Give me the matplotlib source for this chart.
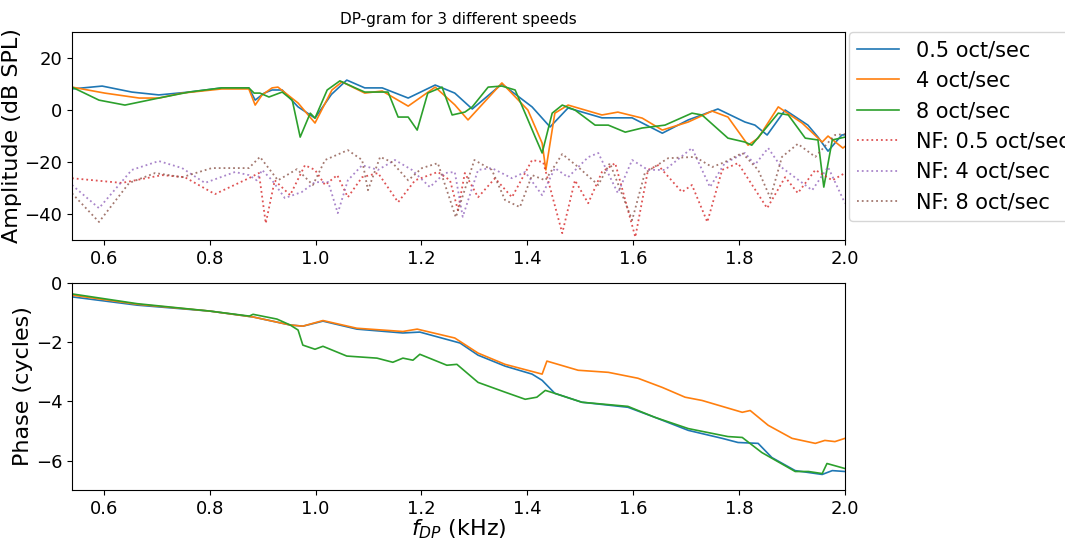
import matplotlib
matplotlib.use('Agg')
import matplotlib.pyplot as plt

# amplitude, DP level (dB SPL)
f_amp_05 = [0.54, 0.597, 0.653, 0.704, 0.761, 0.823, 0.874, 0.886, 0.903, 0.918, 0.937, 0.967, 0.999, 1.03,
            1.059, 1.093, 1.126, 1.175, 1.226, 1.263, 1.296, 1.352, 1.409, 1.443, 1.477, 1.541, 1.598, 1.655,
            1.704, 1.760, 1.811, 1.83, 1.853, 1.887, 1.930, 1.949, 1.968, 1.994, 2.0]
amp_05 = [8.1, 9.2, 6.9, 5.8, 6.9, 8.5, 8.5, 3.8, 6.5, 7.7, 7.7, 1.2, -3.1, 6.0,
          11.5, 8.5, 8.5, 4.6, 9.6, 6.5, 0.4, 10.0, 1.2, -6.5, 0.8, -3.0, -3.0, -8.9,
          -3.8, 0.4, -4.6, -5.8, -9.6, 0.0, -5.8, -10.4, -15.8, -9.6, -9.5]

f_amp_4 = [0.54, 0.602, 0.667, 0.704, 0.748, 0.823, 0.874, 0.886, 0.899, 0.918, 0.929, 0.967, 0.999, 1.031,
           1.05, 1.093, 1.126, 1.175, 1.226, 1.263, 1.288, 1.352, 1.401, 1.428, 1.435, 1.452, 1.477, 1.541,
           1.571, 1.617, 1.655, 1.704, 1.749, 1.779, 1.817, 1.836, 1.874, 1.919, 1.957, 1.968, 1.996, 2.0]
amp_4 = [8.8, 6.5, 4.6, 4.6, 6.5, 8.1, 8.1, 1.9, 5.8, 8.5, 8.8, 2.7, -5.0, 7.7,
         10.8, 6.5, 7.3, 1.5, 8.8, 2.0, -3.8, 10.4, 0.0, -12.7, -23.0, -1.2, 1.9, -1.9,
         -0.8, -3.1, -7.7, -4.6, -0.4, -2.7, -13.5, -10.8, 1.2, -5.0, -12.3, -10.0, -14.6, -14.0]

f_amp_8 = [0.54, 0.591, 0.640, 0.704, 0.761, 0.823, 0.874, 0.884, 0.895, 0.912, 0.937, 0.956, 0.971, 0.99,
           0.999, 1.022, 1.046, 1.075, 1.093, 1.137, 1.156, 1.175, 1.192, 1.212, 1.239, 1.258, 1.282, 1.296,
           1.326, 1.352, 1.377, 1.399, 1.415, 1.428, 1.447, 1.466, 1.49, 1.528, 1.553, 1.585, 1.617, 1.66,
           1.711, 1.73, 1.779, 1.811, 1.824, 1.874, 1.893, 1.925, 1.949, 1.96, 1.976, 2.0]
amp_8 = [8.8, 3.8, 1.9, 4.6, 6.9, 8.5, 8.5, 6.5, 6.5, 5.0, 6.9, 3.8, -10.4, -1.2,
         -3.1, 7.7, 11.2, 8.5, 6.9, 6.9, -2.7, -2.7, -7.7, 6.5, 8.8, -1.9, -0.8, 1.2,
         8.8, 9.2, 7.7, -2.7, -10.4, -16.5, -1.2, 1.9, 0.0, -5.8, -5.8, -8.5, -6.9, -5.8,
         -1.2, -1.9, -10.8, -12.3, -13.5, -1.2, -1.9, -10.8, -11.5, -29.6, -11.5, -10.4]

# noise floor
f_nf_05 = [0.54, 0.634, 0.71, 0.753, 0.81, 0.874, 0.893, 0.906, 0.923, 0.952, 0.98, 0.999, 1.018, 1.041,
           1.061, 1.088, 1.118, 1.156, 1.188, 1.231, 1.254, 1.269, 1.282, 1.307, 1.339, 1.371, 1.409, 1.43,
           1.466, 1.49, 1.515, 1.541, 1.566, 1.604, 1.628, 1.647, 1.692, 1.711, 1.74, 1.768, 1.798, 1.853,
           1.887, 1.911, 1.944, 1.976, 2.0]
nf_05 = [-26.2, -28.0, -25.0, -25.8, -32.3, -26.2, -24.2, -43.5, -27.0, -32.7, -21.2, -23.0, -28.8, -25.0,
         -33.5, -25.8, -24.2, -35.4, -27.0, -23.8, -27.0, -38.5, -24.2, -33.5, -26.2, -33.5, -19.2, -20.0,
         -47.3, -27.0, -35.8, -23.8, -20.4, -48.8, -23.0, -21.2, -31.5, -28.8, -43.0, -23.0, -20.4, -37.7,
         -25.8, -31.9, -23.0, -27.0, -24.2]

f_nf_4 = [0.54, 0.591, 0.653, 0.704, 0.748, 0.791, 0.848, 0.874, 0.889, 0.899, 0.918, 0.942, 0.974, 0.999,
          1.024, 1.042, 1.061, 1.088, 1.118, 1.15, 1.182, 1.216, 1.244, 1.263, 1.278, 1.307, 1.333, 1.371,
          1.396, 1.428, 1.452, 1.477, 1.515, 1.534, 1.571, 1.598, 1.628, 1.66, 1.711, 1.745, 1.773, 1.811,
          1.83, 1.855, 1.88, 1.938, 1.968, 2.0]
nf_4 = [-28.8, -37.7, -23.0, -19.6, -22.3, -28.0, -23.8, -25.0, -27.0, -23.0, -27.0, -33.8, -31.5, -27.7,
        -27.7, -39.6, -27.0, -21.2, -23.0, -19.2, -23.0, -29.6, -24.2, -23.8, -41.0, -23.0, -22.3, -26.2,
        -23.8, -32.7, -22.3, -25.8, -18.1, -16.5, -31.9, -19.2, -23.0, -23.0, -14.6, -29.6, -20.4, -16.5,
        -21.0, -14.6, -22.0, -30.8, -21.9, -35.8]

f_nf_8 = [0.54, 0.591, 0.648, 0.697, 0.748, 0.804, 0.874, 0.895, 0.929, 0.965, 0.995, 1.018, 1.061, 1.088,
          1.099, 1.122, 1.144, 1.175, 1.201, 1.231, 1.265, 1.3, 1.333, 1.358, 1.386, 1.409, 1.434, 1.466,
          1.496, 1.534, 1.556, 1.598, 1.622, 1.666, 1.717, 1.749, 1.773, 1.806, 1.836, 1.859, 1.881, 1.911,
          1.944, 1.981, 2.0]
nf_8 = [-32.0, -43.0, -28.0, -24.2, -25.8, -22.3, -22.3, -18.0, -27.0, -22.7, -28.8, -19.2, -15.4, -19.2,
        -30.8, -18.0, -20.0, -27.0, -22.3, -20.4, -41.2, -19.2, -23.0, -34.6, -37.3, -25.0, -27.0, -16.9,
        -21.9, -28.8, -20.4, -42.3, -24.2, -18.5, -18.0, -21.9, -20.0, -16.5, -23.0, -33.8, -18.0, -13.0,
        -18.0, -9.6, -9.2]

# phase (cycles)
f_ph_05 = [0.54, 0.663, 0.8, 0.882, 0.952, 0.976, 1.014, 1.078, 1.165, 1.197, 1.273, 1.307, 1.358, 1.409,
           1.428, 1.452, 1.503, 1.59, 1.641, 1.704, 1.768, 1.798, 1.836, 1.862, 1.906, 1.957, 1.976, 2.0]
ph_05 = [-0.47, -0.75, -0.95, -1.15, -1.42, -1.46, -1.29, -1.56, -1.69, -1.66, -2.03, -2.44, -2.81, -3.08,
         -3.29, -3.73, -4.03, -4.2, -4.54, -4.98, -5.25, -5.39, -5.42, -5.9, -6.34, -6.47, -6.34, -6.37]

f_ph_4 = [0.54, 0.663, 0.8, 0.882, 0.952, 0.976, 1.014, 1.078, 1.165, 1.192, 1.263, 1.307, 1.358, 1.428,
          1.437, 1.496, 1.553, 1.609, 1.655, 1.698, 1.73, 1.806, 1.821, 1.855, 1.9, 1.944, 1.962, 1.981, 2.0]
ph_4 = [-0.41, -0.72, -0.95, -1.15, -1.42, -1.46, -1.27, -1.53, -1.64, -1.56, -1.86, -2.37, -2.75, -3.08,
        -2.64, -2.95, -3.02, -3.22, -3.53, -3.86, -3.97, -4.37, -4.31, -4.81, -5.25, -5.42, -5.32, -5.36, -5.25]

f_ph_8 = [0.54, 0.663, 0.8, 0.875, 0.882, 0.927, 0.952, 0.967, 0.976, 0.999, 1.014, 1.059, 1.116, 1.146,
          1.165, 1.184, 1.197, 1.248, 1.267, 1.307, 1.358, 1.396, 1.418, 1.434, 1.452, 1.503, 1.59, 1.641,
          1.704, 1.779, 1.806, 1.843, 1.906, 1.931, 1.957, 1.966, 2.0]
ph_8 = [-0.37, -0.7, -0.95, -1.12, -1.06, -1.22, -1.42, -1.59, -2.1, -2.24, -2.14, -2.47, -2.54, -2.68,
        -2.54, -2.61, -2.41, -2.78, -2.75, -3.36, -3.69, -3.93, -3.86, -3.63, -3.73, -4.03, -4.17, -4.54,
        -4.92, -5.19, -5.22, -5.73, -6.37, -6.37, -6.44, -6.1, -6.27]

speeds = ['0.5 oct/sec', '4 oct/sec', '8 oct/sec']

fig = plt.figure(figsize=(10.65, 5.41), dpi=100)
ax1 = fig.add_axes([0.0676, 0.556, 0.7258, 0.385])
ax2 = fig.add_axes([0.0676, 0.094, 0.7258, 0.383])

ax1.plot(f_amp_05, amp_05, color='tab:blue', lw=1.2, label=speeds[0])
ax1.plot(f_amp_4, amp_4, color='tab:orange', lw=1.2, label=speeds[1])
ax1.plot(f_amp_8, amp_8, color='tab:green', lw=1.2, label=speeds[2])
ax1.plot(f_nf_05, nf_05, ':', color='tab:red', lw=1.3, alpha=0.8, label='NF: ' + speeds[0])
ax1.plot(f_nf_4, nf_4, ':', color='tab:purple', lw=1.3, alpha=0.8, label='NF: ' + speeds[1])
ax1.plot(f_nf_8, nf_8, ':', color='tab:brown', lw=1.3, alpha=0.8, label='NF: ' + speeds[2])
ax1.set_xlim(0.54, 2.0)
ax1.set_ylim(-50, 30)
ax1.set_yticks([-40, -20, 0, 20])
ax1.set_title('DP-gram for 3 different speeds', fontsize=11)
ax1.set_ylabel('Amplitude (dB SPL)', fontsize=16, labelpad=2)
ax1.tick_params(labelsize=13)
ax1.legend(loc='upper left', bbox_to_anchor=(1.005, 1.0), borderaxespad=0, fontsize=15)

ax2.plot(f_ph_05, ph_05, color='tab:blue', lw=1.2)
ax2.plot(f_ph_4, ph_4, color='tab:orange', lw=1.2)
ax2.plot(f_ph_8, ph_8, color='tab:green', lw=1.2)
ax2.set_xlim(0.54, 2.0)
ax2.set_ylim(-7, 0)
ax2.set_yticks([-6, -4, -2, 0])
ax2.set_xlabel('$f_{DP}$ (kHz)', fontsize=16, labelpad=0)
ax2.set_ylabel('Phase (cycles)', fontsize=16, labelpad=2)
ax2.tick_params(labelsize=13)

plt.savefig('out.png', dpi=100)
